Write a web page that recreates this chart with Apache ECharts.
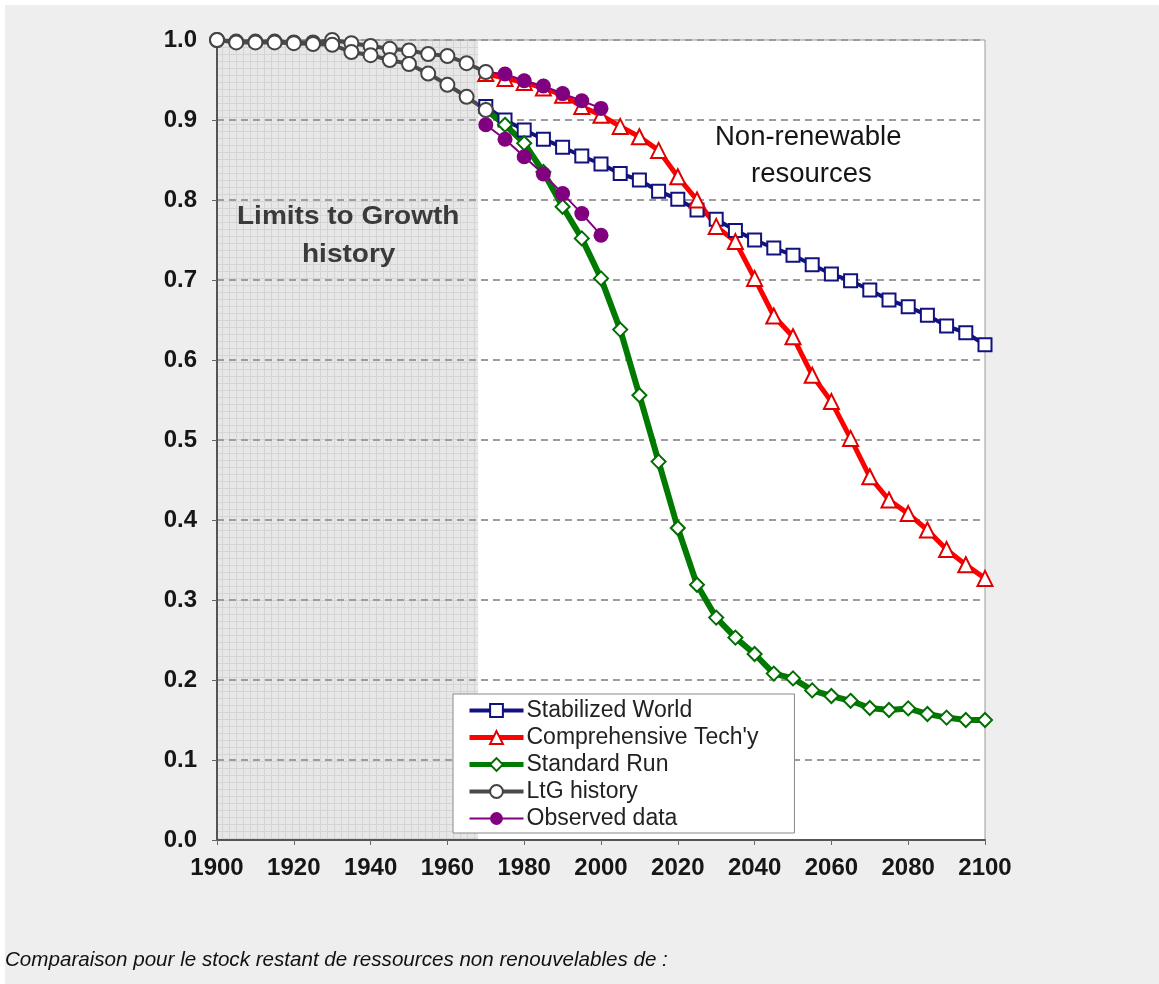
<!DOCTYPE html>
<html>
<head>
<meta charset="utf-8">
<title>Non-renewable resources</title>
<script src="https://cdn.jsdelivr.net/npm/echarts@6/dist/echarts.min.js"></script>
<style>
  html, body { margin: 0; padding: 0; background: #ffffff; }
  #chart { position: absolute; left: 5px; top: 5px; width: 1154px; height: 979px; background: #eeeeee; }
</style>
</head>
<body>
<div id="chart"></div>
<script>
// Years of the model runs, the LtG history and the observed record
const scenarioYears = [1970, 1975, 1980, 1985, 1990, 1995, 2000, 2005, 2010, 2015, 2020, 2025, 2030, 2035,
  2040, 2045, 2050, 2055, 2060, 2065, 2070, 2075, 2080, 2085, 2090, 2095, 2100];
const historyYears = [1900, 1905, 1910, 1915, 1920, 1925, 1930, 1935, 1940, 1945, 1950, 1955, 1960, 1965, 1970];
const observedYears = [1970, 1975, 1980, 1985, 1990, 1995, 2000];

// Fraction of non-renewable resources remaining
const stabilizedWorld = [0.917, 0.900, 0.8875, 0.876, 0.866, 0.855, 0.845, 0.833, 0.825, 0.811, 0.801, 0.7875,
  0.776, 0.762, 0.750, 0.740, 0.731, 0.719, 0.7075, 0.699, 0.6875, 0.675, 0.6665, 0.656, 0.6425, 0.634, 0.619];
const comprehensiveTech = [0.958, 0.952, 0.947, 0.940, 0.931, 0.917, 0.906, 0.892, 0.879, 0.862, 0.829, 0.800,
  0.767, 0.748, 0.702, 0.655, 0.629, 0.581, 0.548, 0.502, 0.454, 0.425, 0.408, 0.3875, 0.363, 0.344, 0.327];
const standardRun = [0.913, 0.894, 0.871, 0.835, 0.7915, 0.752, 0.702, 0.638, 0.556, 0.473, 0.390, 0.319,
  0.278, 0.253, 0.2325, 0.208, 0.202, 0.187, 0.180, 0.174, 0.165, 0.1625, 0.1645, 0.1575, 0.153, 0.150, 0.150];
const historyTechRun = [1.0, 0.998, 0.998, 0.998, 0.997, 0.997, 1.0, 0.996, 0.9925, 0.989, 0.987, 0.9825, 0.980, 0.971, 0.960];
const historyStandardRun = [1.0, 0.997, 0.997, 0.997, 0.996, 0.995, 0.994, 0.985, 0.981, 0.975, 0.970, 0.958, 0.944, 0.929, 0.9125];
const observedHigh = [0.960, 0.9575, 0.949, 0.9425, 0.933, 0.924, 0.9145];
const observedLow = [0.894, 0.876, 0.854, 0.8325, 0.808, 0.783, 0.756];

const historyEnd = 1968;
const xTicks = { min: 1900, max: 2100, step: 20 };
const yTicks = { min: 0, max: 1, step: 0.1 };

function pairs(xs, ys) { return xs.map((x, i) => [x, ys[i]]); }

// Fine hatched grid used to shade the history period
function gridPattern() {
  const c = document.createElement('canvas');
  c.width = 7; c.height = 7;
  const g = c.getContext('2d');
  g.fillStyle = '#e7e7e7';
  g.fillRect(0, 0, 7, 7);
  g.fillStyle = '#d4d4d4';
  g.fillRect(0, 0, 7, 1);
  g.fillRect(0, 0, 1, 7);
  return c;
}

const FONT = '"Liberation Sans", Arial, sans-serif';
const chart = echarts.init(document.getElementById('chart'), null, { renderer: 'canvas' });

const COLORS = { stab: '#12127e', tech: '#ff0000', std: '#007a00', ltg: '#4a4a4a', obs: '#800080' };

chart.setOption({
  animation: false,
  backgroundColor: '#eeeeee',
  grid: {
    left: 212, top: 35, right: 174, bottom: 144,
    show: true, backgroundColor: 'transparent', borderColor: '#9a9a9a', borderWidth: 1
  },
  xAxis: {
    type: 'value', min: xTicks.min, max: xTicks.max, interval: xTicks.step,
    axisLine: { lineStyle: { color: '#555', width: 2 } },
    axisTick: { show: true, length: 5, lineStyle: { color: '#666' } },
    axisLabel: { margin: 16, fontFamily: FONT, fontWeight: 'bold', fontSize: 24, color: '#161616', formatter: v => String(v) },
    splitLine: { show: false }
  },
  yAxis: {
    type: 'value', min: yTicks.min, max: yTicks.max, interval: yTicks.step,
    axisLine: { show: true, lineStyle: { color: '#555', width: 2 } },
    axisTick: { show: true, length: 5, lineStyle: { color: '#666' } },
    axisLabel: { margin: 20, fontFamily: FONT, fontWeight: 'bold', fontSize: 24, color: '#161616', formatter: v => v.toFixed(1) },
    splitLine: { show: true, lineStyle: { color: '#9c9c9c', width: 2, type: [7, 5] } }
  },
  legend: {
    orient: 'vertical', left: 448, top: 689,
    backgroundColor: '#ffffff', borderColor: '#8a8a8a', borderWidth: 1,
    padding: [5, 36, 3, 14],
    itemWidth: 54, itemHeight: 16, itemGap: 4,
    textStyle: { fontFamily: FONT, fontSize: 23, color: '#222', lineHeight: 22, padding: [0, 0, 0, -2] },
    data: [
      { name: 'Stabilized World', lineStyle: { width: 4 } },
      { name: "Comprehensive Tech'y", lineStyle: { width: 5 } },
      { name: 'Standard Run', lineStyle: { width: 5 } },
      { name: 'LtG history', lineStyle: { width: 4 } },
      { name: 'Observed data', lineStyle: { width: 2 } }
    ]
  },
  graphic: [
    { type: 'text', z: 20, left: 232, top: 200, scaleX: 1.12, style: { text: 'Limits to Growth', font: 'bold 25px ' + FONT, fill: '#3a3a3a' } },
    { type: 'text', z: 20, left: 297, top: 238, scaleX: 1.12, style: { text: 'history', font: 'bold 25px ' + FONT, fill: '#3a3a3a' } },
    { type: 'text', z: 20, left: 710, top: 118, style: { text: 'Non-renewable', font: '27.5px ' + FONT, fill: '#151515' } },
    { type: 'text', z: 20, left: 746, top: 155, style: { text: 'resources', font: '27.5px ' + FONT, fill: '#151515' } },
    { type: 'text', z: 20, left: 0, top: 945, style: { text: 'Comparaison pour le stock restant de ressources non renouvelables de :', font: 'italic 20.6px ' + FONT, fill: '#111' } }
  ],
  series: [
    {
      // plot background: white future period, hatched history period
      type: 'line', data: [], z: -1, silent: true,
      markArea: {
        silent: true, z: -1,
        data: [
          [{ xAxis: xTicks.min, itemStyle: { color: { image: gridPattern(), repeat: 'repeat' } } }, { xAxis: historyEnd }],
          [{ xAxis: historyEnd, itemStyle: { color: '#ffffff' } }, { xAxis: xTicks.max }]
        ]
      }
    },
    {
      name: 'Stabilized World', type: 'line', data: pairs(scenarioYears, stabilizedWorld), clip: false,
      lineStyle: { color: COLORS.stab, width: 4 }, itemStyle: { color: '#ffffff', borderColor: COLORS.stab, borderWidth: 2 },
      symbol: 'rect', symbolSize: 13, showAllSymbol: true
    },
    {
      name: "Comprehensive Tech'y", type: 'line', data: pairs(scenarioYears, comprehensiveTech), clip: false,
      lineStyle: { color: COLORS.tech, width: 5 }, itemStyle: { color: '#ffffff', borderColor: '#e00000', borderWidth: 2 },
      symbol: 'triangle', symbolSize: 15, showAllSymbol: true
    },
    {
      name: 'Standard Run', type: 'line', data: pairs(scenarioYears, standardRun), clip: false,
      lineStyle: { color: COLORS.std, width: 6 }, itemStyle: { color: '#ffffff', borderColor: '#006e00', borderWidth: 2 },
      symbol: 'diamond', symbolSize: 14, showAllSymbol: true
    },
    {
      name: 'Observed data', type: 'line', data: pairs(observedYears, observedHigh), clip: false,
      lineStyle: { color: COLORS.obs, width: 2 }, itemStyle: { color: COLORS.obs },
      symbol: 'circle', symbolSize: 15, showAllSymbol: true
    },
    {
      name: 'Observed data', type: 'line', data: pairs(observedYears, observedLow), clip: false,
      lineStyle: { color: COLORS.obs, width: 2 }, itemStyle: { color: COLORS.obs },
      symbol: 'circle', symbolSize: 15, showAllSymbol: true
    },
    {
      name: 'LtG history', type: 'line', data: pairs(historyYears, historyTechRun), clip: false,
      lineStyle: { color: COLORS.ltg, width: 4 }, itemStyle: { color: '#ffffff', borderColor: '#444', borderWidth: 2 },
      symbol: 'circle', symbolSize: 14, showAllSymbol: true
    },
    {
      name: 'LtG history', type: 'line', data: pairs(historyYears, historyStandardRun), clip: false,
      lineStyle: { color: COLORS.ltg, width: 4 }, itemStyle: { color: '#ffffff', borderColor: '#444', borderWidth: 2 },
      symbol: 'circle', symbolSize: 14, showAllSymbol: true
    }
  ]
});
</script>
</body>
</html>
